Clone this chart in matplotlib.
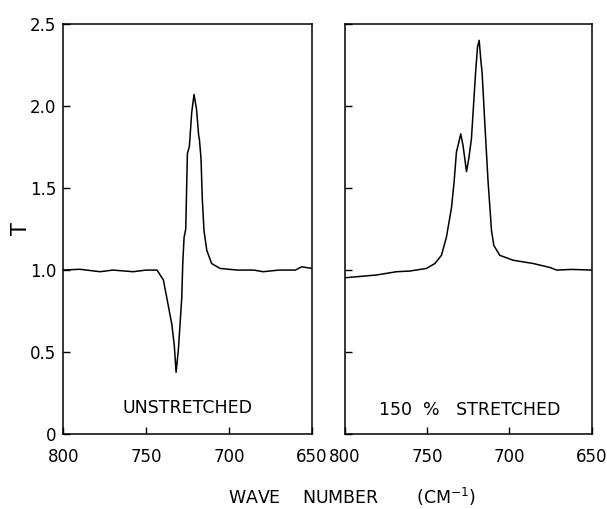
import matplotlib
matplotlib.use("Agg")
import matplotlib.pyplot as plt

# unstretched spectrum (wave number, T)
wn_un = [800, 790, 777.7, 770, 757.8, 750, 743.4, 739.6, 737.5, 734.5, 733.0, 731.9,
         730.5, 728.5, 727.9, 727.1, 726.1, 725.1, 723.9, 722.5, 721.1, 719.6, 718.3,
         717.8, 716.9, 716.1, 715.1, 713.4, 710.5, 705.4, 695, 685, 679.5, 670, 660,
         656.2, 650]
t_un = [1.0, 1.005, 0.99, 1.0, 0.99, 1.0, 1.0, 0.94, 0.83, 0.67, 0.54, 0.377,
        0.52, 0.83, 1.04, 1.20, 1.25, 1.71, 1.755, 1.96, 2.07, 1.98, 1.82,
        1.79, 1.68, 1.43, 1.24, 1.12, 1.04, 1.01, 1.0, 1.0, 0.99, 1.0, 1.0,
        1.02, 1.01]

# 150 % stretched spectrum
wn_st = [800, 780.8, 768.6, 760.5, 750.4, 745.3, 741.3, 738.3, 735.2, 733.6, 732.2,
         731.2, 729.6, 728.2, 726.1, 724.7, 723.1, 722.1, 720.6, 719.4, 718.4, 717.4,
         716.6, 715.0, 713.0, 710.9, 709.5, 705.9, 697.8, 685.6, 675.5, 671.4, 662.1,
         650]
t_st = [0.953, 0.97, 0.99, 0.994, 1.01, 1.04, 1.09, 1.20, 1.38, 1.54, 1.72,
        1.76, 1.83, 1.76, 1.60, 1.68, 1.80, 1.96, 2.2, 2.36, 2.40, 2.28,
        2.2, 1.90, 1.54, 1.24, 1.15, 1.09, 1.06, 1.04, 1.016, 1.0, 1.004,
        1.0]

xticks = [800, 750, 700, 650]
yticks = [0, 0.5, 1.0, 1.5, 2.0, 2.5]
ylabels = ["0", "0.5", "1.0", "1.5", "2.0", "2.5"]

fig = plt.figure(figsize=(6.07, 5.09), dpi=100)
ax1 = fig.add_axes([0.104, 0.147, 0.410, 0.806])
ax2 = fig.add_axes([0.568, 0.147, 0.407, 0.806])

for ax in (ax1, ax2):
    ax.set_xlim(800, 650)
    ax.set_ylim(0, 2.5)
    ax.set_xticks(xticks)
    ax.set_xticklabels([str(v) for v in xticks], fontsize=12)
    ax.set_yticks(yticks)
    ax.tick_params(direction="in", length=5, width=1, pad=10, labelsize=12)
    ax.tick_params(axis="y", pad=5)
    for s in ax.spines.values():
        s.set_linewidth(1.1)

ax1.set_yticklabels(ylabels)
ax2.set_yticklabels([])

ax1.plot(wn_un, t_un, color="black", lw=1.1)
ax2.plot(wn_st, t_st, color="black", lw=1.1)

ax1.text(725.3, 0.16, "UNSTRETCHED", ha="center", va="center", fontsize=12.5)
ax2.text(724.1, 0.15, "150  %   STRETCHED", ha="center", va="center", fontsize=12.5)

ax1.set_ylabel("T", fontsize=15)
ax1.yaxis.set_label_coords(-0.13, 0.5)

fig.text(352 / 607, 1 - 497 / 509, "WAVE    NUMBER       (CM$^{-1}$)",
         ha="center", va="center", fontsize=12.5)

fig.savefig("out.png", dpi=100)
